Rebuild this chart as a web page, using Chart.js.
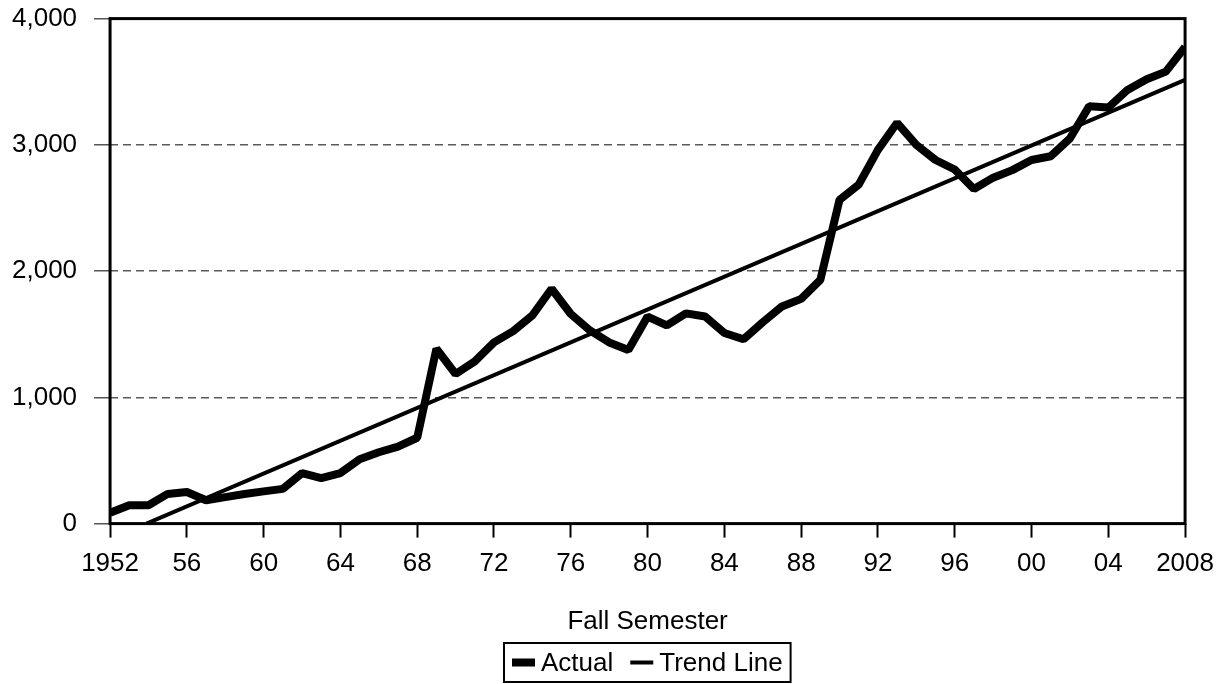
<!DOCTYPE html>
<html>
<head>
<meta charset="utf-8">
<script src="https://cdn.jsdelivr.net/npm/chart.js@4.4.1/dist/chart.umd.min.js"></script>
<style>
  html, body { margin: 0; padding: 0; background: #fff; }
  #wrap { width: 1225px; height: 684px; position: relative; }
</style>
</head>
<body>
<div id="wrap"><canvas id="chart"></canvas></div>
<script>
const FONT = '"Liberation Sans", Arial, Helvetica, sans-serif';

// fall semester years and actual counts
const years = [1952,1953,1954,1955,1956,1957,1958,1959,1960,1961,
               1962,1963,1964,1965,1966,1967,1968,1969,1970,1971,
               1972,1973,1974,1975,1976,1977,1978,1979,1980,1981,
               1982,1983,1984,1985,1986,1987,1988,1989,1990,1991,
               1992,1993,1994,1995,1996,1997,1998,1999,2000,2001,
               2002,2003,2004,2005,2006,2007,2008];
const actual = [85,145,145,235,250,185,210,235,255,275,
                400,360,400,510,565,610,680,1385,1185,1285,
                1435,1525,1650,1860,1660,1530,1435,1375,1640,1570,
                1665,1640,1510,1460,1595,1720,1780,1930,2565,2685,
                2960,3175,3000,2880,2805,2650,2740,2800,2880,2910,
                3050,3305,3295,3435,3520,3580,3775];

// trend line end points (it is cut off at zero on the left)
const trendYears = [1953.9, 2008];
const trendValues = [0, 3515];

const xTickLabels = ['1952','56','60','64','68','72','76','80','84','88','92','96','00','04','2008'];
const yTickLabels = ['0','1,000','2,000','3,000','4,000'];

// black frame round the plot area
const frame = {
  id: 'frame',
  afterDatasetsDraw(chart){
    const a = chart.chartArea, ctx = chart.ctx;
    ctx.save();
    ctx.strokeStyle = '#000';
    ctx.lineWidth = 3;
    ctx.strokeRect(a.left, a.top, a.right - a.left, a.bottom - a.top);
    ctx.restore();
  }
};

// boxed legend under the axis title
const boxLegend = {
  id: 'boxLegend',
  afterDraw(chart){
    const ctx = chart.ctx, a = chart.chartArea;
    ctx.save();
    ctx.font = '26px ' + FONT;
    const bar = 23, gap = 6, space = 17, pad = 8;
    const items = chart.data.datasets.map(ds => ({
      label: ds.label, lw: ds.borderWidth, tw: ctx.measureText(ds.label).width
    }));
    let total = pad * 2 + space * (items.length - 1);
    items.forEach(it => { total += bar + gap + it.tw; });
    const left = Math.round((a.left + a.right) / 2 - total / 2);
    const top = chart.height - 41, h = 39, cy = top + h / 2;
    ctx.strokeStyle = '#000';
    ctx.lineWidth = 2;
    ctx.strokeRect(left, top, total, h);
    let x = left + pad;
    items.forEach(it => {
      ctx.fillStyle = '#000';
      ctx.fillRect(x, cy - it.lw / 2, bar, it.lw);
      x += bar + gap;
      ctx.textBaseline = 'middle';
      ctx.textAlign = 'left';
      ctx.fillText(it.label, x, cy + 1);
      x += it.tw + space;
    });
    ctx.restore();
  }
};

(function init(){
  Chart.defaults.font.family = FONT;
  Chart.defaults.font.size = 26;
  Chart.defaults.color = '#000';

  const ctx = document.getElementById('chart').getContext('2d');
  new Chart(ctx, {
    type: 'line',
    data: {
      datasets: [
        {
          label: 'Actual',
          data: years.map((y, i) => ({ x: y, y: actual[i] })),
          borderColor: '#000',
          borderWidth: 8,
          borderJoinStyle: 'bevel',
          pointRadius: 0,
          tension: 0,
          fill: false
        },
        {
          label: 'Trend Line',
          data: trendYears.map((y, i) => ({ x: y, y: trendValues[i] })),
          borderColor: '#000',
          borderWidth: 4,
          pointRadius: 0,
          tension: 0,
          fill: false
        }
      ]
    },
    options: {
      responsive: true,
      maintainAspectRatio: false,
      animation: false,
      layout: { padding: { left: 9, right: 38, top: 0, bottom: 47 } },
      plugins: {
        legend: { display: false },
        tooltip: { enabled: false }
      },
      scales: {
        x: {
          type: 'linear',
          min: 1952, max: 2008,
          grid: {
            drawOnChartArea: false, drawTicks: true,
            tickLength: 14, tickColor: '#000', tickWidth: 2
          },
          border: { display: false },
          ticks: {
            stepSize: 4, padding: 11, maxRotation: 0, autoSkip: false,
            callback: (v, i) => xTickLabels[i]
          },
          title: {
            display: true, text: 'Fall Semester',
            font: { size: 26 }, padding: { top: 15, bottom: 0 }
          }
        },
        y: {
          min: 0, max: 4000,
          grid: {
            color: '#5a5a5a', lineWidth: 1.5,
            borderDash: [8, 5],
            drawTicks: true, tickLength: 30,
            // only the inner 16px of the tick mark is visible
            tickColor: '#555', tickWidth: 1.5,
            tickBorderDash: [0, 14, 16, 100]
          },
          border: { display: false, dash: [8, 5] },
          ticks: {
            stepSize: 1000, padding: 3,
            callback: (v, i) => yTickLabels[i]
          }
        }
      }
    },
    plugins: [frame, boxLegend]
  });
})();
</script>
</body>
</html>
